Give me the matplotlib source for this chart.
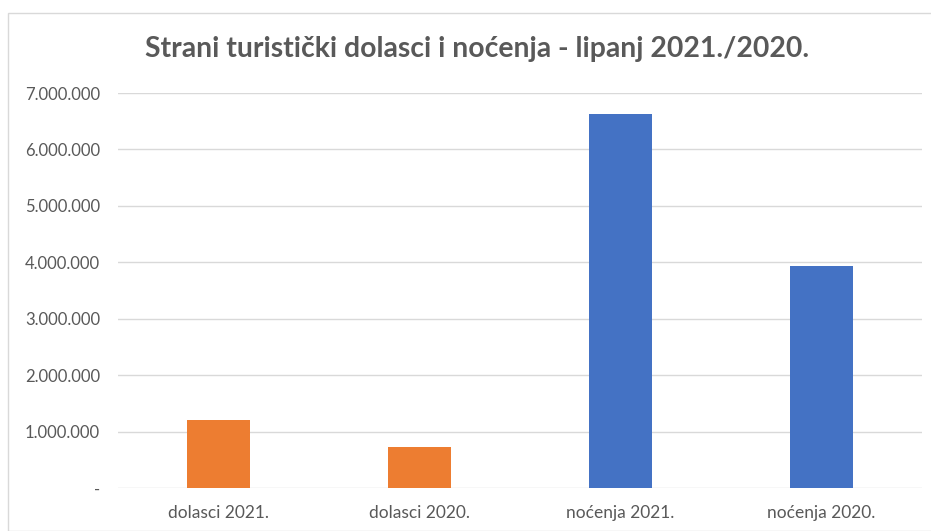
import matplotlib
matplotlib.use("Agg")
import matplotlib.pyplot as plt
from matplotlib.patches import Rectangle
from matplotlib.ticker import FuncFormatter

categories = ["dolasci 2021.", "dolasci 2020.", "noćenja 2021.", "noćenja 2020."]
values = [1205000, 720000, 6630000, 3935000]
bar_colors = ["#ED7D31", "#ED7D31", "#4472C4", "#4472C4"]
yticks = [0, 1000000, 2000000, 3000000, 4000000, 5000000, 6000000, 7000000]
title = "Strani turistički dolasci i noćenja - lipanj 2021./2020."

plt.rcParams['font.family'] = ['Lato', 'DejaVu Sans']
text_color = "#595959"

fig = plt.figure(figsize=(9.31, 5.31), dpi=100)
fig.patch.set_facecolor("white")
fig.patches.append(Rectangle((8/931, 0), 1.0, 1 - 13/531, transform=fig.transFigure,
                             fill=False, edgecolor="#D9D9D9", linewidth=1.0))

ax = fig.add_axes([118/931, 1 - 488/531, 804/931, (488 - 93)/531])
x = list(range(len(categories)))
ax.bar(x, values, width=0.31, color=bar_colors, zorder=3)
ax.set_xlim(-0.5, 3.5)
ax.set_ylim(0, 7000000)
ax.set_yticks(yticks)

def fmt(v, pos):
    if v == 0:
        return "-"
    return f"{int(v):,}".replace(",", ".")

ax.yaxis.set_major_formatter(FuncFormatter(fmt))
ax.set_xticks(x)
ax.set_xticklabels(categories)
ax.tick_params(axis='both', length=0, colors=text_color)
ax.tick_params(axis='y', pad=13, labelsize=12)
ax.tick_params(axis='x', pad=12, labelsize=12.5)
ax.grid(axis='y', color="#D9D9D9", linewidth=1.0, zorder=0)
for s in ax.spines.values():
    s.set_visible(False)

fig.text(477/931, 1 - 49/531, title, ha='center', va='center', fontsize=20.4,
         fontweight='bold', color=text_color)

fig.savefig("out.png", dpi=100)
